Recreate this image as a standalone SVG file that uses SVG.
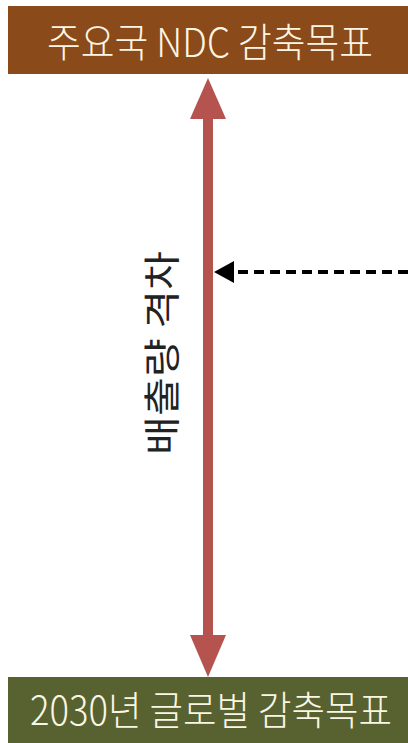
<svg xmlns="http://www.w3.org/2000/svg" width="408" height="743" viewBox="0 0 408 743">
<style>
.lbl{font-family:"Noto Sans CJK KR","Liberation Sans",sans-serif;fill:#fbf6e4;text-anchor:middle;font-weight:300}
.vt{font-family:"Noto Sans CJK KR","Liberation Sans",sans-serif;fill:#222;font-size:37px;text-anchor:middle}
</style>
<rect width="408" height="743" fill="#fff"/>
<g id="top-node">
<rect x="8" y="6" width="400" height="68" fill="#8a4a1a"/>
<text class="lbl" x="210" y="57" font-size="40" textLength="326" lengthAdjust="spacingAndGlyphs">주요국 NDC 감축목표</text>
</g>
<g id="bottom-node">
<rect x="8" y="677" width="400" height="66" fill="#576230"/>
<text class="lbl" x="211" y="725" font-size="40" textLength="362" lengthAdjust="spacingAndGlyphs">2030년 글로벌 감축목표</text>
</g>
<g id="gap-label">
<text class="vt" transform="translate(176,353) rotate(-90)" x="0" y="0" textLength="204" lengthAdjust="spacingAndGlyphs">배출량 격차</text>
</g>
<g id="connectors">
<line x1="208" y1="112" x2="208" y2="642" stroke="#b5534f" stroke-width="10"/>
<polygon points="208,78 190,119 226,119" fill="#b5534f"/>
<polygon points="208,677 190,635 226,635" fill="#b5534f"/>
<line x1="408" y1="272" x2="232" y2="272" stroke="#000" stroke-width="4" stroke-dasharray="10,6"/>
<polygon points="214,272 234,261 234,283" fill="#000"/>
</g>
</svg>
